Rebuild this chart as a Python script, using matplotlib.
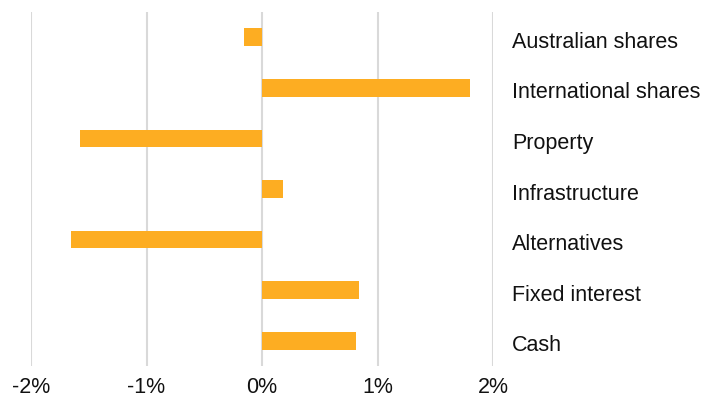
import numpy as np
import matplotlib
matplotlib.use("Agg")
import matplotlib.pyplot as plt
from matplotlib.ticker import FuncFormatter
from matplotlib.transforms import ScaledTranslation

# asset classes, top to bottom
categories = ["Australian shares", "International shares", "Property",
              "Infrastructure", "Alternatives", "Fixed interest", "Cash"]
values = [-0.16, 1.80, -1.58, 0.18, -1.65, 0.84, 0.81]
xticks = [-2, -1, 0, 1, 2]

plt.rcParams['font.family'] = ['Liberation Sans', 'DejaVu Sans']

fig = plt.figure(figsize=(7.04, 4.01), dpi=100)
ax = fig.add_axes([31/704, 1 - 366/401, (493 - 31)/704, (366 - 12)/401])

y = np.arange(len(categories))
ax.barh(y, values, height=0.35, color="#FDAD22", zorder=2)

ax.set_xlim(-2, 2)
ax.set_ylim(len(categories) - 0.5, -0.5)
ax.set_xticks(xticks)
ax.xaxis.set_major_formatter(FuncFormatter(lambda v, p: "%d%%" % v))
ax.grid(axis="x", color="#D9D9D9", linewidth=1.5, zorder=0)
ax.set_axisbelow(True)

ax.set_yticks(y)
ax.set_yticklabels(categories)
ax.yaxis.tick_right()
ax.tick_params(axis="y", length=0, pad=13.5, labelsize=15.5, colors="#111111")
ax.tick_params(axis="x", length=0, pad=8, labelsize=15.5, colors="#111111")

# nudge category labels down a little, like the original
shift = ScaledTranslation(0, -2.5/100, fig.dpi_scale_trans)
for lab in ax.get_yticklabels():
    lab.set_transform(lab.get_transform() + shift)

for s in ax.spines.values():
    s.set_visible(False)

fig.savefig("out.png", dpi=100)
